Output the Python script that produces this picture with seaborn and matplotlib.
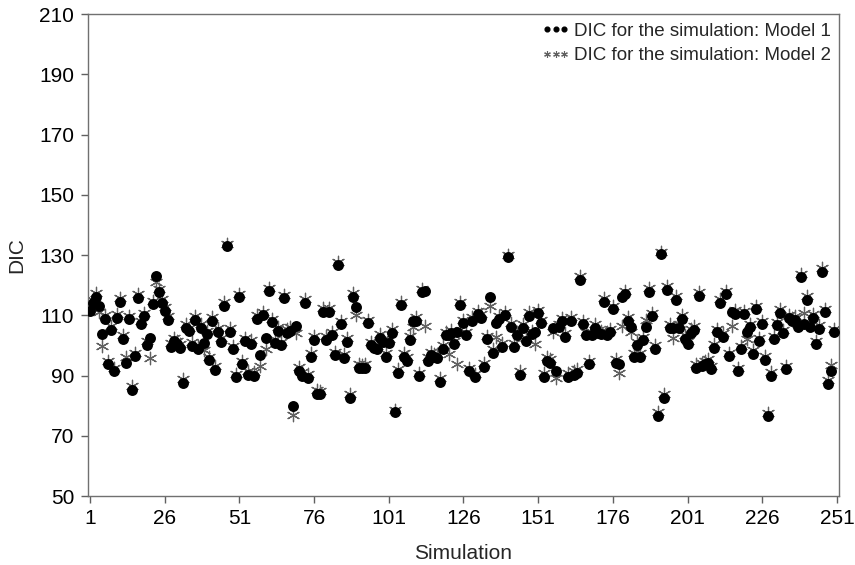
import matplotlib
matplotlib.use("Agg")
import matplotlib.pyplot as plt
import pandas as pd
import seaborn as sns
from matplotlib.lines import Line2D

# Simulation index and DIC values for the two models
simulation = list(range(1, 251))

dic_model1 = [
    111.4, 114.0, 115.9, 113.1, 103.7, 108.9, 93.7, 105.1, 91.4, 109.2,
    114.4, 102.2, 94.2, 108.7, 85.3, 96.4, 115.7, 107.0, 109.8, 100.1,
    102.6, 113.7, 123.1, 117.6, 114.2, 111.4, 108.4, 99.5, 101.4, 100.3,
    99.2, 87.6, 105.9, 104.7, 99.8, 108.4, 98.7, 105.9, 100.7, 103.7,
    95.0, 108.1, 91.8, 104.6, 101.1, 113.1, 133.0, 104.6, 98.7, 89.4,
    115.9, 93.7, 101.4, 90.3, 100.6, 90.0, 108.9, 96.7, 110.0, 102.6,
    117.9, 107.6, 100.9, 104.8, 100.0, 115.6, 104.2, 104.8, 79.8, 106.4,
    91.5, 90.0, 114.2, 89.2, 96.2, 101.8, 84.0, 83.7, 111.1, 101.8,
    111.1, 103.3, 96.7, 126.7, 107.0, 95.9, 101.1, 82.6, 116.2, 112.6,
    92.6, 92.4, 92.6, 107.3, 100.0, 99.0, 98.7, 102.5, 101.0, 96.3,
    100.9, 104.2, 77.8, 90.9, 113.3, 96.2, 94.8, 101.8, 108.1, 108.1,
    89.8, 117.6, 118.1, 94.8, 96.7, 96.0, 95.9, 87.9, 98.9, 103.3,
    103.3, 104.0, 100.3, 104.4, 113.3, 107.3, 103.3, 91.4, 108.1, 89.4,
    110.3, 109.2, 92.9, 102.0, 115.9, 97.6, 107.3, 108.7, 99.6, 110.0,
    129.2, 106.2, 99.6, 103.3, 90.3, 105.9, 101.4, 109.8, 103.7, 104.5,
    110.7, 107.3, 89.6, 94.8, 94.2, 105.9, 91.4, 106.0, 108.0, 102.9,
    89.5, 108.1, 90.3, 90.8, 121.8, 107.0, 103.3, 93.7, 103.3, 105.9,
    104.0, 103.7, 114.4, 103.3, 104.4, 112.0, 94.2, 93.7, 115.9, 117.0,
    108.1, 106.2, 96.3, 100.0, 96.3, 101.7, 106.2, 117.8, 109.6, 98.9,
    76.7, 130.3, 82.6, 118.4, 105.9, 105.9, 115.1, 105.9, 108.9, 102.2,
    100.3, 104.0, 105.1, 92.5, 116.4, 93.0, 93.7, 94.3, 92.0, 99.2,
    104.4, 114.2, 102.9, 117.0, 96.4, 111.1, 110.5, 91.4, 98.7, 110.3,
    104.4, 106.0, 97.3, 112.0, 101.4, 107.0, 95.3, 76.7, 90.0, 102.0,
    106.7, 110.9, 104.0, 92.0, 109.0, 108.0, 108.5, 106.0, 122.6, 107.0,
    115.1, 106.0, 109.2, 100.3, 105.6, 124.4, 111.0, 87.3, 91.4, 104.4,
]

dic_model2 = [
    112.6, 115.2, 117.5, 111.0, 99.8, 110.1, 94.9, 106.3, 92.5, 110.3,
    115.6, 103.4, 96.0, 109.9, 86.4, 97.6, 116.9, 108.2, 110.8, 101.3,
    95.9, 114.9, 120.9, 118.8, 115.4, 112.6, 109.6, 100.7, 102.6, 101.5,
    100.4, 88.8, 107.1, 105.9, 101.0, 109.6, 99.9, 107.1, 98.5, 104.9,
    96.2, 109.3, 93.0, 105.8, 102.3, 114.3, 133.8, 105.8, 99.9, 90.6,
    117.1, 94.9, 102.6, 91.5, 101.8, 91.2, 110.1, 93.3, 111.2, 98.9,
    119.1, 108.8, 102.1, 106.0, 101.2, 116.8, 105.4, 106.0, 76.9, 104.2,
    92.7, 91.2, 115.4, 90.4, 97.4, 103.0, 85.2, 84.9, 112.3, 103.0,
    112.3, 104.5, 97.9, 127.6, 108.2, 97.1, 102.3, 83.8, 117.4, 110.2,
    93.8, 93.6, 93.8, 108.5, 101.2, 100.2, 99.9, 103.7, 102.2, 97.5,
    102.1, 105.4, 78.6, 92.1, 114.5, 97.4, 96.0, 103.0, 106.0, 109.3,
    91.0, 118.8, 106.4, 96.0, 97.9, 97.2, 97.1, 89.1, 100.1, 104.5,
    97.3, 105.2, 101.5, 93.7, 114.5, 108.5, 104.5, 92.6, 109.3, 90.6,
    111.5, 110.4, 94.1, 103.2, 113.1, 98.8, 102.9, 109.9, 100.8, 111.2,
    130.0, 107.4, 100.8, 104.5, 91.5, 107.1, 102.6, 111.0, 104.9, 100.3,
    111.9, 108.5, 90.8, 96.0, 95.4, 104.4, 89.2, 107.2, 109.2, 104.1,
    90.7, 109.3, 91.5, 92.0, 123.0, 108.2, 104.5, 94.9, 104.5, 107.1,
    105.2, 104.9, 115.6, 104.5, 105.6, 113.2, 95.4, 90.7, 106.4, 118.2,
    109.3, 104.4, 97.5, 101.2, 97.5, 102.9, 108.5, 119.0, 110.8, 100.1,
    77.9, 131.1, 83.8, 119.6, 107.1, 102.5, 116.3, 107.1, 110.1, 103.4,
    101.5, 105.3, 106.3, 93.7, 117.6, 94.2, 94.9, 95.5, 93.2, 100.4,
    105.6, 115.4, 104.1, 118.2, 97.6, 106.5, 111.7, 92.6, 99.9, 111.5,
    102.2, 107.2, 98.5, 113.2, 102.6, 108.2, 96.5, 77.5, 91.2, 103.2,
    107.9, 112.1, 105.2, 93.2, 110.2, 109.2, 109.7, 107.2, 123.8, 110.9,
    116.3, 107.2, 110.4, 101.5, 106.8, 125.6, 112.2, 88.5, 93.5, 105.6,
]

x_ticks = [1, 26, 51, 76, 101, 126, 151, 176, 201, 226, 251]
y_ticks = [50, 70, 90, 110, 130, 150, 170, 190, 210]
label_model1 = "DIC for the simulation: Model 1"
label_model2 = "DIC for the simulation: Model 2"

sns.set_theme(style="ticks")
plt.rcParams["font.family"] = ["Liberation Sans", "DejaVu Sans"]

df = pd.DataFrame({
    "Simulation": simulation,
    "Model 1": dic_model1,
    "Model 2": dic_model2,
})

fig = plt.figure(figsize=(8.55, 5.65), dpi=100)
ax = fig.add_axes([0.1029, 0.1221, 0.8784, 0.8531])

star = (6, 2, 0)
sns.scatterplot(data=df, x="Simulation", y="Model 2", marker=star, s=80,
                color="#606060", edgecolor="#606060", linewidth=0.9,
                ax=ax, zorder=2, legend=False)
sns.scatterplot(data=df, x="Simulation", y="Model 1", marker="o", s=62,
                color="black", edgecolor="black", linewidth=0,
                ax=ax, zorder=3, legend=False)

ax.set_xlim(0.33, 251.7)
ax.set_ylim(50, 210)
ax.set_xticks(x_ticks)
ax.set_yticks(y_ticks)
ax.tick_params(axis="both", direction="out", length=5, width=1,
               color="#606060", labelsize=15, labelcolor="black")
ax.tick_params(axis="y", pad=5)
ax.tick_params(axis="x", pad=4)
ax.set_xlabel("Simulation", fontsize=15, labelpad=12)
ax.set_ylabel("DIC", fontsize=15, labelpad=9)

for side in ["left", "right", "top", "bottom"]:
    ax.spines[side].set_visible(True)
    ax.spines[side].set_color("#707070")
    ax.spines[side].set_linewidth(1.0)

handles = [
    Line2D([], [], ls="none", marker="o", color="black", markersize=3.4),
    Line2D([], [], ls="none", marker=star, color="#606060",
           markersize=4.8, markeredgewidth=0.8),
]
ax.legend(handles, [label_model1, label_model2], numpoints=3,
          loc="upper right", frameon=False, fontsize=13.5,
          handlelength=1.5, handletextpad=0.2, labelspacing=0.4,
          borderaxespad=0.15, borderpad=0.3)

fig.savefig("out.png", dpi=100)
